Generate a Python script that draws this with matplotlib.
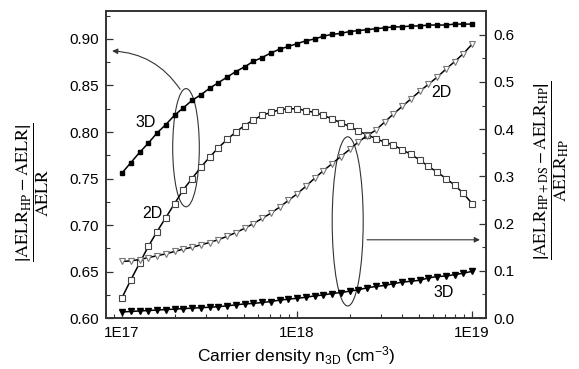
import numpy as np
import matplotlib
matplotlib.use("Agg")
import matplotlib.pyplot as plt
from matplotlib.patches import Ellipse
from matplotlib.ticker import LogLocator, FixedLocator, MultipleLocator, FormatStrFormatter, NullFormatter

plt.rcParams['font.family'] = ['Liberation Sans', 'DejaVu Sans']
plt.rcParams['mathtext.fontset'] = 'custom'
plt.rcParams['mathtext.rm'] = 'Liberation Sans'
plt.rcParams['mathtext.it'] = 'Liberation Sans:italic'

# carrier density grid, log10(n) from 17 to 19 in 0.05 steps
log_n = np.linspace(17, 19, 41)
n3d = 10 ** log_n

# left axis |AELR_HP - AELR| / AELR
left_3d = [0.756, 0.767, 0.778, 0.788, 0.799, 0.808, 0.818, 0.826, 0.834, 0.840,
           0.847, 0.853, 0.859, 0.865, 0.870, 0.876, 0.880, 0.885, 0.889, 0.892,
           0.895, 0.898, 0.900, 0.903, 0.905, 0.906, 0.908, 0.909, 0.910, 0.911,
           0.912, 0.913, 0.913, 0.914, 0.914, 0.915, 0.915, 0.915, 0.916, 0.916, 0.916]
left_2d = [0.622, 0.641, 0.659, 0.677, 0.693, 0.708, 0.723, 0.738, 0.750, 0.762,
           0.773, 0.783, 0.792, 0.800, 0.807, 0.813, 0.818, 0.821, 0.824, 0.825,
           0.825, 0.823, 0.821, 0.818, 0.814, 0.810, 0.806, 0.801, 0.797, 0.793,
           0.789, 0.786, 0.781, 0.776, 0.770, 0.763, 0.757, 0.750, 0.743, 0.734, 0.723]

# right axis |AELR_HP+DS - AELR_HP| / AELR_HP
right_2d = [0.120, 0.121, 0.124, 0.128, 0.132, 0.136, 0.141, 0.146, 0.150, 0.155,
            0.160, 0.166, 0.173, 0.181, 0.190, 0.200, 0.211, 0.222, 0.235, 0.249,
            0.263, 0.279, 0.296, 0.312, 0.327, 0.342, 0.357, 0.373, 0.386, 0.398,
            0.415, 0.432, 0.448, 0.464, 0.480, 0.495, 0.510, 0.527, 0.543, 0.560, 0.580]
right_3d = [0.013, 0.014, 0.015, 0.016, 0.017, 0.018, 0.019, 0.020, 0.021, 0.022,
            0.023, 0.024, 0.026, 0.028, 0.030, 0.031, 0.033, 0.035, 0.038, 0.040,
            0.042, 0.044, 0.047, 0.049, 0.052, 0.054, 0.057, 0.060, 0.064, 0.067,
            0.069, 0.073, 0.076, 0.078, 0.080, 0.085, 0.088, 0.089, 0.092, 0.095, 0.099]

x_ticks = [1e17, 1e18, 1e19]
x_ticklabels = ["1E17", "1E18", "1E19"]

fig = plt.figure(figsize=(5.79, 3.69), dpi=100)
ax = fig.add_axes([0.1831, 0.138, 0.6563, 0.832])
ax2 = ax.twinx()

ax.plot(n3d, left_3d, color='black', lw=1.1, marker='s', ms=3.0,
        mfc='black', mec='black')
ax.plot(n3d, left_2d, color='black', lw=1.1, marker='s', ms=4.0,
        mfc='white', mec='#444444', mew=0.8)
ax2.plot(n3d, right_2d, color='black', lw=1.1, marker='v', ms=4.3,
         mfc='white', mec='#777777', mew=0.8)
ax2.plot(n3d, right_3d, color='black', lw=1.1, marker='v', ms=4.3,
         mfc='black', mec='black')

ax.set_xscale('log')
ax.set_xlim(8.1e16, 1.2e19)
ax.set_ylim(0.60, 0.93)
ax2.set_ylim(0.0, 0.65)

ax.xaxis.set_major_locator(FixedLocator(x_ticks))
ax.set_xticklabels(x_ticklabels)
ax.xaxis.set_minor_locator(LogLocator(base=10, subs=np.arange(2, 10)))
ax.xaxis.set_minor_formatter(NullFormatter())
ax.yaxis.set_major_locator(MultipleLocator(0.05))
ax.yaxis.set_minor_locator(MultipleLocator(0.025))
ax.yaxis.set_major_formatter(FormatStrFormatter('%.2f'))
ax2.yaxis.set_major_locator(MultipleLocator(0.1))
ax2.yaxis.set_minor_locator(MultipleLocator(0.05))
ax2.yaxis.set_major_formatter(FormatStrFormatter('%.1f'))

for a in (ax, ax2):
    a.tick_params(which='major', direction='in', length=5, width=0.9,
                  labelsize=11, color='#333333')
    a.tick_params(which='minor', direction='in', length=3, width=0.8,
                  color='#333333')
    for s in a.spines.values():
        s.set_linewidth(1.2)
        s.set_color('#333333')
ax.tick_params(axis='y', pad=5)
ax.tick_params(axis='x', pad=6)
ax2.tick_params(axis='y', pad=5)

ax.set_xlabel(r"Carrier density n$_{\mathrm{3D}}$ (cm$^{\mathrm{-3}}$)",
              fontsize=12.5, labelpad=3)

fig.text(0.057, 0.48,
         r"$\dfrac{\left|\mathrm{AELR}_{\mathrm{HP}}-\mathrm{AELR}\right|}{\mathrm{AELR}}$",
         rotation=90, ha='center', va='center', fontsize=13, math_fontfamily='stix')
fig.text(0.952, 0.539,
         r"$\dfrac{\left|\mathrm{AELR}_{\mathrm{HP+DS}}-\mathrm{AELR}_{\mathrm{HP}}\right|}{\mathrm{AELR}_{\mathrm{HP}}}$",
         rotation=90, ha='center', va='center', fontsize=12.5, math_fontfamily='stix')

# ellipses and arrows
ax.add_patch(Ellipse((0.2105, 0.555), 0.070, 0.385, transform=ax.transAxes,
                     fill=False, ec='#333333', lw=0.8))
ax.add_patch(Ellipse((0.636, 0.315), 0.0816, 0.551, transform=ax.transAxes,
                     fill=False, ec='#333333', lw=0.8))
ax.annotate('', xy=(0.016, 0.870), xycoords='axes fraction',
            xytext=(0.195, 0.745), textcoords='axes fraction',
            arrowprops=dict(arrowstyle='-|>', connectionstyle='arc3,rad=0.25',
                            color='#333333', lw=0.8, mutation_scale=8,
                            shrinkA=0, shrinkB=0))
ax.annotate('', xy=(0.984, 0.255), xycoords='axes fraction',
            xytext=(0.687, 0.255), textcoords='axes fraction',
            arrowprops=dict(arrowstyle='-|>', color='#333333', lw=0.8,
                            mutation_scale=8, shrinkA=0, shrinkB=0))

ax.text(0.105, 0.636, "3D", transform=ax.transAxes, ha='center', va='center', fontsize=11.5)
ax.text(0.121, 0.341, "2D", transform=ax.transAxes, ha='center', va='center', fontsize=11.5)
ax.text(0.882, 0.735, "2D", transform=ax.transAxes, ha='center', va='center', fontsize=11.5)
ax.text(0.889, 0.082, "3D", transform=ax.transAxes, ha='center', va='center', fontsize=11.5)

fig.savefig("out.png", dpi=100)
